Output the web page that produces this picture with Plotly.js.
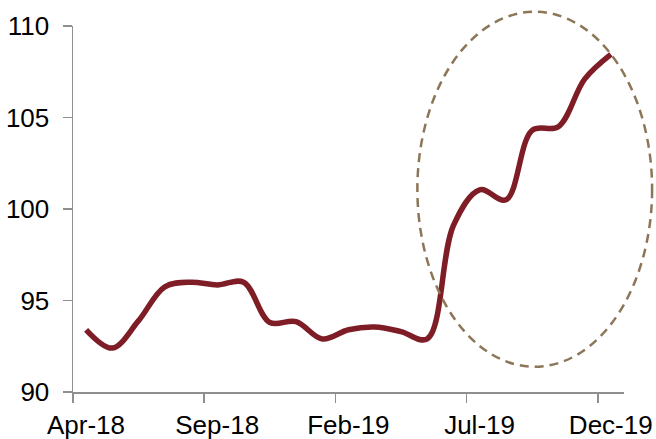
<!DOCTYPE html>
<html>
<head>
<meta charset="utf-8">
<script src="https://cdn.plot.ly/plotly-3.0.1.min.js"></script>
<style>html,body{margin:0;padding:0;background:#fff;}#chart{width:656px;height:439px;}</style>
</head>
<body>
<div id="chart"></div>
<script>
// Monthly categories
const months = ['Apr-18','May-18','Jun-18','Jul-18','Aug-18','Sep-18','Oct-18','Nov-18','Dec-18',
  'Jan-19','Feb-19','Mar-19','Apr-19','May-19','Jun-19','Jul-19','Aug-19','Sep-19','Oct-19','Nov-19','Dec-19'];
// Index values
const values = [93.4, 92.4, 93.9, 95.75, 96.0, 95.85, 96.0, 93.8, 93.85, 92.9,
  93.4, 93.55, 93.3, 92.9, 99.1, 101.05, 100.5, 104.3, 104.5, 107.1, 108.45];
// Labelled months (every fifth)
const tickLabels = ['Apr-18','Sep-18','Feb-19','Jul-19','Dec-19'];
const yTicks = [90, 95, 100, 105, 110];

const xIdx = months.map((m, i) => i);
const tickVals = tickLabels.map(l => months.indexOf(l) - 0.5);

const font = {family: 'Liberation Sans, Arial, sans-serif', size: 26, color: '#000'};
const axisColor = '#8f8f8f';

const data = [{
  x: xIdx, y: values, type: 'scatter', mode: 'lines',
  line: {color: '#7f1d27', width: 5.5, shape: 'spline', smoothing: 1},
  hoverinfo: 'skip'
}];

const layout = {
  width: 656, height: 439,
  margin: {l: 73, r: 32, t: 26, b: 47, pad: 0},
  paper_bgcolor: '#fff', plot_bgcolor: '#fff',
  showlegend: false,
  font: font,
  xaxis: {
    range: [-0.5, months.length - 0.5],
    tickmode: 'array', tickvals: tickVals, ticktext: tickLabels,
    ticklabelshift: 13,
    ticks: 'outside', ticklen: 9, tickwidth: 1.5, tickcolor: axisColor,
    showline: true, linecolor: axisColor, linewidth: 1.5,
    showgrid: false, zeroline: false, tickfont: font, fixedrange: true
  },
  yaxis: {
    range: [90, 110],
    tickmode: 'array', tickvals: yTicks,
    ticks: 'outside', ticklen: 9, tickwidth: 1.5, tickcolor: axisColor,
    showline: true, linecolor: axisColor, linewidth: 1.5,
    showgrid: false, zeroline: false, tickfont: font, fixedrange: true,
    ticklabelstandoff: 8
  },
  shapes: [{
    type: 'circle', xref: 'paper', yref: 'paper',
    x0: 0.625, x1: 1.051, y0: 0.069, y1: 1.039,
    line: {color: '#8c7658', width: 2.5, dash: '9px,6px'},
    fillcolor: 'rgba(0,0,0,0)', layer: 'above'
  }]
};

Plotly.newPlot('chart', data, layout, {displayModeBar: false, staticPlot: true});
</script>
</body>
</html>
